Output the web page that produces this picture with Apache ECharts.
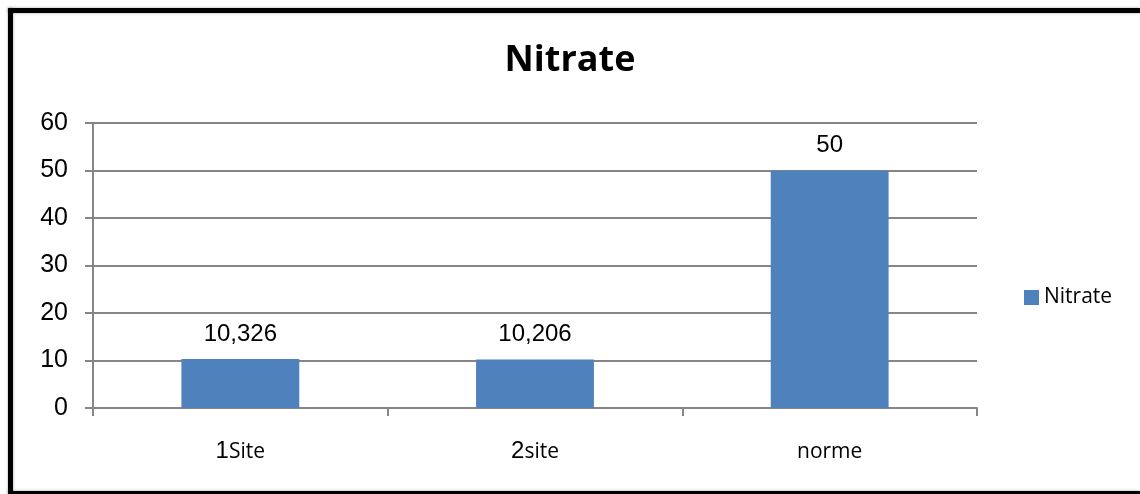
<!DOCTYPE html>
<html>
<head>
<meta charset="utf-8">
<script src="https://cdn.jsdelivr.net/npm/echarts@6/dist/echarts.min.js"></script>
<style>
  html, body { margin: 0; padding: 0; background: #fff; overflow: hidden; width: 1140px; height: 494px; }
  #wrap { position: relative; width: 1140px; height: 494px; overflow: hidden; }
  .edge { position: absolute; background: #000; box-shadow: 0 0 3px rgba(0,0,0,0.35); }
  #chart { position: absolute; left: 0; top: 0; width: 1140px; height: 494px; }
</style>
</head>
<body>
<div id="wrap">
  <div class="edge" style="left:8px; top:8px; width:1132px; height:5px;"></div>
  <div class="edge" style="left:8px; top:8px; width:5px; height:486px;"></div>
  <div class="edge" style="left:8px; top:491px; width:1132px; height:3px;"></div>
  <div id="chart"></div>
</div>
<script>
// Nitrate concentration per site, compared with the norm
const categories = ['1Site', '2site', 'norme'];
const nitrateValues = [10.326, 10.206, 50];
const seriesName = 'Nitrate';
const yTicks = { min: 0, max: 60, interval: 10 };

// values are shown with a decimal comma
const fmt = v => String(v).replace('.', ',');

const chart = echarts.init(document.getElementById('chart'), null, { renderer: 'canvas' });

chart.setOption({
  backgroundColor: 'transparent',
  animation: false,
  title: {
    text: 'Nitrate',
    left: 'center',
    top: 38,
    textStyle: { fontFamily: 'Open Sans', fontWeight: 'bold', fontSize: 36, color: '#000' }
  },
  legend: {
    data: [seriesName],
    orient: 'vertical',
    left: 1019,
    top: 282,
    itemWidth: 15,
    itemHeight: 15,
    itemGap: 10,
    icon: 'rect',
    textStyle: { fontFamily: 'Open Sans', fontSize: 21, color: '#000', padding: [0, 0, 0, 0] }
  },
  grid: { left: 93, right: 163, top: 123, bottom: 86, containLabel: false },
  xAxis: {
    type: 'category',
    data: categories,
    axisLine: { lineStyle: { color: '#868686', width: 2 } },
    axisTick: { show: true, length: 8, lineStyle: { color: '#868686', width: 2 } },
    axisLabel: {
      margin: 27,
      color: '#000',
      formatter: function (v) {
        const m = v.match(/^(\d+)(.*)$/);
        return m ? '{n|' + m[1] + '}{t|' + m[2] + '}' : '{t|' + v + '}';
      },
      rich: {
        n: { fontFamily: 'Liberation Sans', fontSize: 24, color: '#000', lineHeight: 28, verticalAlign: 'bottom' },
        t: { fontFamily: 'Open Sans', fontSize: 21, color: '#000', lineHeight: 28, verticalAlign: 'bottom' }
      }
    }
  },
  yAxis: {
    type: 'value',
    min: yTicks.min,
    max: yTicks.max,
    interval: yTicks.interval,
    axisLine: { show: true, lineStyle: { color: '#868686', width: 2 } },
    axisTick: { show: true, length: 8, lineStyle: { color: '#868686', width: 2 } },
    splitLine: { show: true, lineStyle: { color: '#868686', width: 2 } },
    axisLabel: { margin: 25, color: '#000', fontFamily: 'Liberation Sans', fontSize: 25 }
  },
  series: [{
    name: seriesName,
    type: 'bar',
    data: nitrateValues,
    barWidth: '40%',
    itemStyle: { color: '#4F81BD' },
    label: {
      show: true,
      position: 'top',
      distance: 13,
      color: '#000',
      fontFamily: 'Liberation Sans',
      fontSize: 24,
      formatter: p => fmt(p.value)
    }
  }]
});
</script>
</body>
</html>
